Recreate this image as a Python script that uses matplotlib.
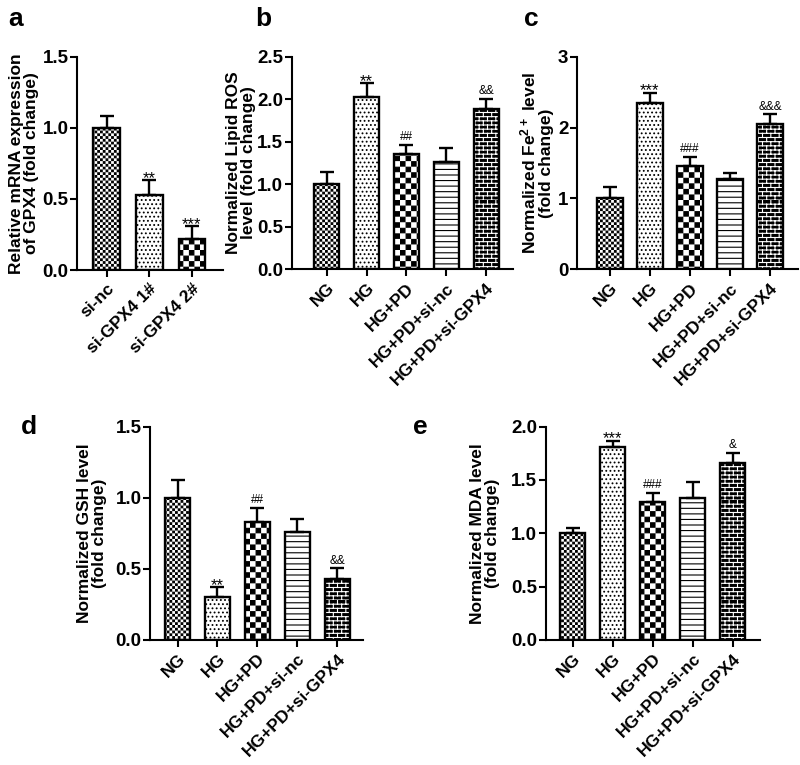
"""GPX4 knockdown panels: mRNA, lipid ROS, Fe2+, GSH, MDA."""
import warnings
import numpy as np
import matplotlib
matplotlib.use("Agg")
import matplotlib.pyplot as plt
from matplotlib import hatch as mhatch
from matplotlib.path import Path
from matplotlib.ticker import FormatStrFormatter

warnings.filterwarnings("ignore")

# --- data ---
groups_a = ["si-nc", "si-GPX4 1#", "si-GPX4 2#"]
mrna_mean = [1.00, 0.53, 0.22]
mrna_err = [0.08, 0.10, 0.09]
mrna_marks = ["", "**", "***"]

groups = ["NG", "HG", "HG+PD", "HG+PD+si-nc", "HG+PD+si-GPX4"]
ros_mean = [1.00, 2.03, 1.35, 1.26, 1.89]
ros_err = [0.14, 0.16, 0.11, 0.16, 0.11]
ros_marks = ["", "**", "##", "", "&&"]

fe_mean = [1.00, 2.35, 1.46, 1.28, 2.05]
fe_err = [0.16, 0.14, 0.12, 0.075, 0.135]
fe_marks = ["", "***", "###", "", "&&&"]

gsh_mean = [1.00, 0.30, 0.83, 0.76, 0.43]
gsh_err = [0.125, 0.07, 0.10, 0.093, 0.073]
gsh_marks = ["", "**", "##", "", "&&"]

mda_mean = [1.00, 1.81, 1.29, 1.33, 1.66]
mda_err = [0.05, 0.06, 0.09, 0.147, 0.094]
mda_marks = ["", "***", "###", "", "&"]

HATCH_LW = 0.8
matplotlib.rcParams.update({
    "font.family": ["Liberation Sans", "DejaVu Sans"], "font.weight": "bold",
    "axes.labelweight": "bold", "hatch.linewidth": HATCH_LW,
    "mathtext.fontset": "custom", "mathtext.bf": "Liberation Sans:bold",
    "mathtext.rm": "Liberation Sans:bold", "mathtext.default": "bf",
    "axes.linewidth": 1.5, "xtick.major.width": 1.5, "ytick.major.width": 1.5,
    "xtick.major.size": 5, "ytick.major.size": 5,
    "xtick.major.pad": 3, "ytick.major.pad": 1,
})


# extra hatch patterns: 'c' = checkerboard, 'b' = brick wall
class Checker(mhatch.HatchPatternBase):
    def __init__(self, hatch, density):
        self.n = hatch.count("c") * density
        self.num_vertices = (self.n * self.n // 2) * 5

    def set_vertices_and_codes(self, vertices, codes):
        s = 1.0 / self.n
        m = HATCH_LW / 72 / 2  # inset so the stroke does not swell squares
        k = 0
        for i in range(self.n):
            for j in range(i % 2, self.n, 2):
                x0, y0, x1, y1 = j * s + m, i * s + m, (j + 1) * s - m, (i + 1) * s - m
                vertices[k:k + 5] = [(x0, y0), (x1, y0), (x1, y1), (x0, y1), (x0, y0)]
                codes[k:k + 5] = [Path.MOVETO, Path.LINETO, Path.LINETO,
                                  Path.LINETO, Path.CLOSEPOLY]
                k += 5


class Brick(mhatch.HatchPatternBase):
    def __init__(self, hatch, density):
        n = hatch.count("b")
        self.rows, self.cols = 4 * density * n, 2 * density * n
        self.num_vertices = 2 * self.rows + 2 * self.rows * self.cols

    def set_vertices_and_codes(self, vertices, codes):
        k = 0
        for i in range(self.rows):
            y0, y1 = i / self.rows, (i + 1) / self.rows
            vertices[k:k + 2] = [(0, y0), (1, y0)]
            codes[k:k + 2] = [Path.MOVETO, Path.LINETO]
            k += 2
            for j in range(self.cols):
                xv = (j + 0.5 * (i % 2)) / self.cols
                vertices[k:k + 2] = [(xv, y0), (xv, y1)]
                codes[k:k + 2] = [Path.MOVETO, Path.LINETO]
                k += 2


mhatch._hatch_types.extend([Checker, Brick])

# (face, hatch colour, hatch)
FINE = ("white", "black", "cccccc")
DOTS = ("white", "black", "....")
COARSE = ("white", "black", "ccc")
LINES = ("white", "black", "---")
BRICK = ("black", "white", "b")
STYLES5 = [FINE, DOTS, COARSE, LINES, BRICK]


def panel(rect, labels, mean, err, marks, ymax, step, ylabel, xlim, fmt, styles, pad):
    ax = fig.add_axes(rect)
    x = np.arange(len(labels))
    w = 0.63
    for i in range(len(labels)):
        face, hc, h = styles[i]
        ax.bar(x[i], mean[i], w, color=face, edgecolor=hc, hatch=h, linewidth=0)
    ax.bar(x, mean, w, fill=False, edgecolor="black", linewidth=1.7)
    ax.errorbar(x, mean, yerr=[np.zeros(len(x)), err], fmt="none", ecolor="black",
                elinewidth=1.7, capsize=5, capthick=1.7)
    for xi, m, e, s in zip(x, mean, err, marks):
        if not s:
            continue
        star = s[0] == "*"
        ax.annotate(s, (xi, m + e), xytext=(0, -2 if star else 3.5),
                    textcoords="offset points", ha="center", va="baseline",
                    fontsize=12 if star else 8.5, fontweight="normal")
    ax.set_xlim(*xlim)
    ax.set_ylim(0, ymax)
    ax.set_yticks(np.arange(0, ymax + step / 2, step))
    ax.yaxis.set_major_formatter(FormatStrFormatter(fmt))
    ax.set_xticks(x)
    ax.set_xticklabels(labels, rotation=45, ha="right", rotation_mode="anchor",
                       fontsize=12.5)
    ax.tick_params(axis="y", labelsize=13.5)
    ax.set_ylabel(ylabel, fontsize=12.5, linespacing=1.0, labelpad=pad)
    for side in ("top", "right"):
        ax.spines[side].set_visible(False)
    return ax


fig = plt.figure(figsize=(8, 7.65), dpi=100)

panel([0.0963, 0.647, 0.1825, 0.2788], groups_a, mrna_mean, mrna_err, mrna_marks,
      1.5, 0.5, "Relative mRNA expression\nof GPX4 (fold change)", (-0.70, 2.73),
      "%.1f", [FINE, DOTS, COARSE], 3)
panel([0.3646, 0.648, 0.277, 0.278], groups, ros_mean, ros_err, ros_marks,
      2.5, 0.5, "Normalized Lipid ROS\nlevel (fold change)", (-0.88, 4.68),
      "%.1f", STYLES5, 1)
panel([0.7209, 0.648, 0.2766, 0.278], groups, fe_mean, fe_err, fe_marks,
      3, 1, "Normalized Fe$^{2+}$ level\n(fold change)", (-0.83, 4.70),
      "%d", STYLES5, 3)
panel([0.1875, 0.1634, 0.2666, 0.2789], groups, gsh_mean, gsh_err, gsh_marks,
      1.5, 0.5, "Normalized GSH level\n(fold change)", (-0.69, 4.65),
      "%.1f", STYLES5, 6.5)
panel([0.6821, 0.1634, 0.2679, 0.2789], groups, mda_mean, mda_err, mda_marks,
      2.0, 0.5, "Normalized MDA level\n(fold change)", (-0.68, 4.68),
      "%.1f", STYLES5, 8)

for letter, px, py in [("a", 8, 26), ("b", 255, 26), ("c", 524, 26),
                       ("d", 21, 434), ("e", 413, 434)]:
    fig.text(px / 800, 1 - py / 765, letter, fontsize=19, fontweight="bold",
             va="baseline")

fig.savefig("out.png", dpi=100)
